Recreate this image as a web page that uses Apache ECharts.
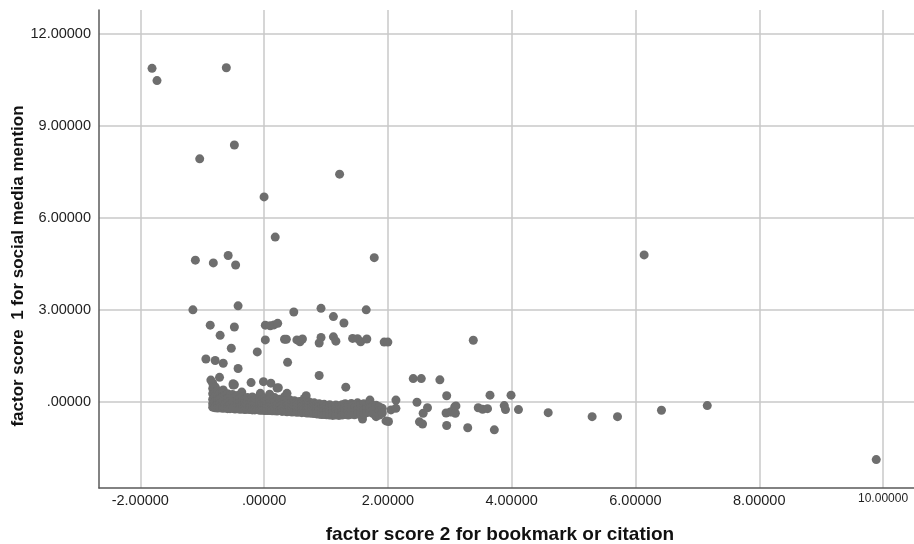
<!DOCTYPE html>
<html>
<head>
<meta charset="utf-8">
<script src="https://cdn.jsdelivr.net/npm/echarts@6/dist/echarts.min.js"></script>
<style>
html,body{margin:0;padding:0;background:#fff;}
#chart{width:914px;height:544px;}
</style>
</head>
<body>
<div id="chart"></div>
<script>
// ---- data ----
const xAxisTitle = 'factor score 2 for bookmark or citation';
const yAxisTitle = 'factor score  1 for social media mention';

const xTickValues = [-2, 0, 2, 4, 6, 8, 10];
const xTickLabels = ['-2.00000', '.00000', '2.00000', '4.00000', '6.00000', '8.00000', '10.00000'];
const yTickValues = [0, 3, 6, 9, 12];
const yTickLabels = ['.00000', '3.00000', '6.00000', '9.00000', '12.00000'];

// scattered points [factor score 2, factor score 1]
const outlierPoints = [
  [-1.81,10.88],[-1.73,10.48],[-0.61,10.90],[-0.48,8.38],[-1.04,7.93],[1.22,7.43],[0.00,6.69],[0.18,5.38],
  [-1.11,4.63],[-0.82,4.54],[-0.58,4.78],[-0.46,4.47],[1.78,4.71],[6.14,4.80],
  [-1.15,3.01],[-0.42,3.14],[-0.87,2.51],[-0.48,2.45],[-0.71,2.18],[-0.53,1.76],[-0.11,1.64],[-0.94,1.41],
  [-0.79,1.36],[-0.66,1.27],[-0.42,1.10],[-0.86,0.72],[-0.72,0.81],[-0.48,0.57],[-0.21,0.64],[-0.01,0.67],
  [0.11,0.62],[0.21,0.46],[0.02,2.51],[0.10,2.49],[0.16,2.52],[0.22,2.57],[0.02,2.03],[0.33,2.05],[0.36,2.05],
  [0.48,2.94],[0.53,2.03],[0.58,1.97],[0.62,2.06],[0.38,1.30],[0.89,1.93],[0.92,2.11],[0.92,3.06],[0.89,0.87],
  [1.12,2.79],[1.29,2.58],[1.12,2.13],[1.16,1.99],[1.32,0.49],[1.43,2.08],[1.51,2.07],[1.56,1.97],[1.66,2.06],
  [1.65,3.01],[1.94,1.96],[2.00,1.96],
  [1.59,-0.55],[2.13,0.07],[2.01,-0.63],[1.97,-0.61],[2.05,-0.25],[2.13,-0.20],[2.41,0.77],[2.54,0.77],
  [2.84,0.73],[2.47,0.00],[2.51,-0.64],[2.56,-0.71],[2.57,-0.36],[2.64,-0.18],[2.95,0.21],[2.95,-0.76],
  [2.94,-0.35],[3.01,-0.32],[3.08,-0.15],[3.03,-0.31],[3.09,-0.36],[3.10,-0.12],[3.29,-0.83],[3.38,2.02],
  [3.46,-0.18],[3.53,-0.23],[3.61,-0.21],[3.65,0.23],[3.72,-0.90],[3.88,-0.11],[3.90,-0.24],[3.99,0.23],
  [4.11,-0.24],[4.59,-0.34],[5.30,-0.47],[5.71,-0.47],[6.42,-0.26],[7.16,-0.11],[9.89,-1.87],
  [1.71,0.07],[-0.50,0.60],[-0.36,0.33],[-0.06,0.29],[0.37,0.29],[0.68,0.21],[0.23,0.47],[-0.66,0.40],[-0.50,0.56]
];

// dense band: each row = [factor score 2, factor score 1 values at that x...]
const bandColumns = [
  [-0.83, 0.62, 0.45, 0.28, 0.10, -0.05, -0.16],
  [-0.79, 0.50, 0.33, 0.18, 0.02, -0.12, -0.18],
  [-0.75, 0.38, 0.20, 0.05, -0.08, -0.19],
  [-0.71, 0.30, 0.12, -0.03, -0.18],
  [-0.67, 0.35, 0.18, 0.03, -0.10, -0.20],
  [-0.63, 0.22, 0.08, -0.06, -0.19],
  [-0.59, 0.28, 0.12, -0.02, -0.15, -0.21],
  [-0.55, 0.20, 0.05, -0.09, -0.21],
  [-0.51, 0.25, 0.10, -0.04, -0.20],
  [-0.47, 0.14, 0.01, -0.12, -0.22],
  [-0.43, 0.22, 0.07, -0.07, -0.21],
  [-0.39, 0.12, -0.01, -0.14, -0.23],
  [-0.35, 0.18, 0.04, -0.09, -0.22],
  [-0.31, 0.10, -0.03, -0.15, -0.24],
  [-0.27, 0.15, 0.02, -0.10, -0.23],
  [-0.23, 0.08, -0.05, -0.16, -0.24],
  [-0.19, 0.17, 0.03, -0.11, -0.25],
  [-0.15, 0.06, -0.06, -0.17, -0.25],
  [-0.11, 0.12, 0.00, -0.12, -0.24],
  [-0.07, 0.20, 0.05, -0.08, -0.19, -0.26],
  [-0.03, 0.10, -0.04, -0.15, -0.26],
  [0.01, 0.14, 0.02, -0.10, -0.21, -0.27],
  [0.05, 0.06, -0.06, -0.17, -0.27],
  [0.09, 0.26, 0.10, -0.02, -0.13, -0.27],
  [0.13, 0.04, -0.08, -0.18, -0.28],
  [0.17, 0.15, 0.01, -0.11, -0.22, -0.28],
  [0.21, 0.05, -0.07, -0.18, -0.29],
  [0.25, 0.10, -0.02, -0.14, -0.27],
  [0.29, 0.02, -0.09, -0.20, -0.30],
  [0.33, 0.18, 0.05, -0.06, -0.16, -0.29],
  [0.37, 0.00, -0.11, -0.21, -0.31],
  [0.41, 0.08, -0.04, -0.15, -0.29],
  [0.45, -0.01, -0.12, -0.22, -0.32],
  [0.49, 0.05, -0.06, -0.17, -0.31],
  [0.53, -0.03, -0.13, -0.23, -0.33],
  [0.57, 0.02, -0.09, -0.19, -0.32],
  [0.61, -0.04, -0.14, -0.24, -0.34],
  [0.65, 0.12, 0.00, -0.10, -0.20, -0.33],
  [0.69, -0.06, -0.16, -0.26, -0.35],
  [0.73, 0.01, -0.11, -0.21, -0.35],
  [0.77, -0.07, -0.17, -0.27, -0.36],
  [0.81, -0.02, -0.13, -0.23, -0.37],
  [0.85, -0.09, -0.19, -0.28, -0.38],
  [0.89, -0.05, -0.15, -0.25, -0.39],
  [0.93, -0.11, -0.21, -0.30, -0.40],
  [0.97, -0.07, -0.17, -0.27, -0.40],
  [1.01, -0.12, -0.22, -0.31, -0.41],
  [1.06, -0.08, -0.18, -0.29, -0.42],
  [1.11, -0.13, -0.24, -0.34, -0.43],
  [1.16, -0.09, -0.19, -0.30, -0.42],
  [1.21, -0.12, -0.23, -0.33, -0.43],
  [1.26, -0.08, -0.19, -0.30, -0.42],
  [1.31, -0.05, -0.16, -0.27, -0.40],
  [1.36, -0.10, -0.21, -0.31, -0.42],
  [1.41, -0.04, -0.15, -0.26, -0.39],
  [1.46, -0.09, -0.20, -0.31, -0.41],
  [1.51, -0.02, -0.13, -0.24, -0.38],
  [1.56, -0.08, -0.19, -0.30, -0.40],
  [1.61, -0.05, -0.16, -0.27, -0.39],
  [1.66, -0.10, -0.21, -0.34],
  [1.71, -0.07, -0.18, -0.32],
  [1.76, -0.12, -0.24, -0.37],
  [1.81, -0.10, -0.22, -0.38, -0.47],
  [1.86, -0.15, -0.28, -0.42],
  [1.91, -0.20, -0.35]
];

// ---- build ----
const bandPoints = [];
bandColumns.forEach(function (col) {
  for (let i = 1; i < col.length; i++) bandPoints.push([col[0], col[i]]);
});
const allPoints = outlierPoints.concat(bandPoints);

const FONT = 'Arial, "Liberation Sans", sans-serif';
const chart = echarts.init(document.getElementById('chart'), null, { renderer: 'canvas' });

function labelFor(values, labels, smallIndex) {
  return function (v) {
    const i = values.findIndex(function (t) { return Math.abs(t - v) < 1e-9; });
    if (i < 0) return '';
    return i === smallIndex ? '{s|' + labels[i] + '}' : labels[i];
  };
}

chart.setOption({
  animation: false,
  backgroundColor: '#ffffff',
  grid: { left: 99, right: 0, top: 10, bottom: 56, containLabel: false },
  xAxis: {
    type: 'value',
    min: -2.667,
    max: 10.5,
    axisLine: { show: true, onZero: false, lineStyle: { color: '#5a5a5a', width: 1.5 } },
    axisTick: { show: false, customValues: xTickValues },
    splitLine: { show: true, lineStyle: { color: '#c9c9c9', width: 1.5 } },
    axisLabel: {
      customValues: xTickValues,
      formatter: labelFor(xTickValues, xTickLabels, xTickValues.length - 1),
      color: '#1e1e1e', fontFamily: FONT, fontSize: 14.5, margin: 5,
      rich: { s: { fontSize: 12, fontFamily: FONT, color: '#1e1e1e' } }
    }
  },
  yAxis: {
    type: 'value',
    min: -2.795,
    max: 12.78,
    axisLine: { show: true, onZero: false, lineStyle: { color: '#5a5a5a', width: 1.5 } },
    axisTick: { show: false, customValues: yTickValues },
    splitLine: { show: true, lineStyle: { color: '#c9c9c9', width: 1.5 } },
    axisLabel: {
      customValues: yTickValues,
      formatter: labelFor(yTickValues, yTickLabels, -1),
      color: '#1e1e1e', fontFamily: FONT, fontSize: 14.5, margin: 8
    }
  },
  graphic: [
    {
      type: 'text', x: 500, y: 535,
      style: { text: xAxisTitle, font: 'bold 19px ' + FONT, fill: '#111', align: 'center', verticalAlign: 'middle' }
    },
    {
      type: 'text', x: 18, y: 266, rotation: Math.PI / 2,
      style: { text: yAxisTitle, font: 'bold 17px ' + FONT, fill: '#111', align: 'center', verticalAlign: 'middle' }
    }
  ],
  series: [{
    type: 'scatter',
    data: allPoints,
    symbolSize: 9,
    itemStyle: { color: '#6e6e6e', opacity: 1 },
    emphasis: { disabled: true }
  }]
});
</script>
</body>
</html>
